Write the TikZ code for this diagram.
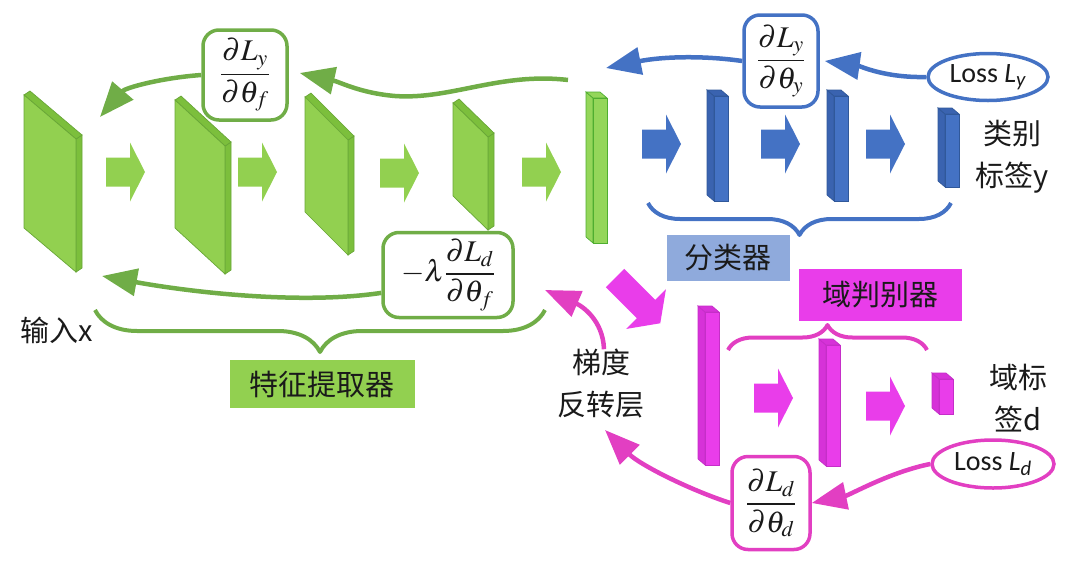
\documentclass[tikz,border=0pt]{standalone}
\usepackage{mathptmx}
\usepackage[no-math]{fontspec}
\newfontfamily\cjk{Noto Sans CJK SC}
\newfontfamily\carl{Carlito}
\usetikzlibrary{arrows.meta,decorations.pathreplacing,shapes.geometric,calc}
\definecolor{gfill}{HTML}{92D050}
\definecolor{gside}{HTML}{7CBF3C}
\definecolor{gedge}{HTML}{68A637}
\definecolor{gline}{HTML}{70AD47}
\definecolor{gbar}{HTML}{94D65A}
\definecolor{gbaredge}{HTML}{4FAE30}
\definecolor{bfill}{HTML}{4472C4}
\definecolor{bside}{HTML}{3A63B0}
\definecolor{bedge}{HTML}{30589A}
\definecolor{bline}{HTML}{4472C4}
\definecolor{mfill}{HTML}{E93DEA}
\definecolor{mside}{HTML}{D632D8}
\definecolor{medge}{HTML}{C52EC8}
\definecolor{mline}{HTML}{E23FC2}
\definecolor{clsfill}{HTML}{8FAADC}
\definecolor{txt}{HTML}{1A1A1A}
\newcommand\mfs{\fontsize{30}{33}\selectfont}
\newcommand\slabG[5]{%
 \filldraw[fill=gside,draw=gedge,line width=0.7pt] ({#2},{#3+#4}) -- ++(6,-4) -- ++(0,#5) -- ++(-6,4) -- cycle;
 \filldraw[fill=gside,draw=gedge,line width=0.7pt] ({#1},{#3}) -- ++(6,-4) -- ({#2+6},{#3+#4-4}) -- ({#2},{#3+#4}) -- cycle;
 \filldraw[fill=gfill,draw=gedge,line width=0.7pt] ({#1},{#3}) -- ({#2},{#3+#4}) -- ++(0,#5) -- ({#1},{#3+#5}) -- cycle;
}
\newcommand\cubar[7]{%
 \filldraw[fill=#2,draw=#3,line width=0.7pt] ({#4},{#6}) -- ++(-7,-6) -- ({#4-7},{#7-6}) -- ({#4},{#7}) -- cycle;
 \filldraw[fill=#2,draw=#3,line width=0.7pt] ({#4},{#6}) -- ++(-7,-6) -- ({#5-7},{#6-6}) -- ({#5},{#6}) -- cycle;
 \filldraw[fill=#1,draw=#3,line width=0.7pt] ({#4},{#6}) rectangle ({#5},{#7});
}
\tikzset{
 blockarrow/.pic={\fill[pic actions] (0,-14.5) -- (24,-14.5) -- (24,-29.5) -- (39,0) -- (24,29.5) -- (24,14.5) -- (0,14.5) -- cycle;},
 longblockarrow/.pic={\fill[pic actions] (0,-13) -- (44,-13) -- (44,-28) -- (64,0) -- (44,28) -- (44,13) -- (0,13) -- cycle;},
 gradbox/.style={draw=#1, line width=3.5pt, rounded corners=16pt, fill=white, inner sep=0pt, text=txt, font=\mfs},
 cjkt/.style={text=txt, font=\cjk\fontsize{29}{42}\selectfont, align=center, inner sep=0pt},
 labbox/.style={fill=#1, text=txt, font=\cjk\fontsize{29}{34}\selectfont, inner sep=0pt},
 lossell/.style={ellipse, draw=#1, line width=3.5pt, fill=white, inner sep=0pt, text=txt, font=\carl\fontsize{28}{32}\selectfont},
 curv/.style={draw=#1, line width=4.5pt, -{Triangle[length=35pt,width=27pt]}},
 bracestyle/.style 2 args={draw=#1, line width=4pt, line join=round, decorate, decoration={brace, amplitude=#2}},
}
\begin{document}
\begin{tikzpicture}[x=1pt,y=-1pt]
\useasboundingbox (0,0) rectangle (1090,560);

% ---------- feature extractor (green) ----------
\slabG{24}{76}{95}{44}{133}
\slabG{175}{225}{100}{46}{128}
\slabG{305}{348}{97}{43}{115}
\slabG{453}{488}{103}{34}{93}
\cubar{gbar}{gbar}{gbaredge}{593}{607}{98}{243}
\pic[fill=gfill] at (106,172) {blockarrow};
\pic[fill=gfill] at (238,172) {blockarrow};
\pic[fill=gfill] at (380,173) {blockarrow};
\pic[fill=gfill] at (522,172) {blockarrow};

% ---------- label classifier (blue) ----------
\cubar{bfill}{bside}{bedge}{714}{728}{96}{201}
\cubar{bfill}{bside}{bedge}{834}{848}{96}{201}
\cubar{bfill}{bside}{bedge}{945}{959}{114}{187}
\pic[fill=bfill] at (642,144) {blockarrow};
\pic[fill=bfill] at (761,144) {blockarrow};
\pic[fill=bfill] at (866,144) {blockarrow};

% ---------- domain classifier (magenta) ----------
\cubar{mfill}{mside}{medge}{705}{719}{312}{465}
\cubar{mfill}{mside}{medge}{826}{840}{345}{466}
\cubar{mfill}{mside}{medge}{939}{953}{379}{414}
\pic[fill=mfill] at (754,398) {blockarrow};
\pic[fill=mfill] at (866,406) {blockarrow};
\pic[fill=mfill, rotate=-45] at (615,278) {longblockarrow};

% ---------- braces ----------
\draw[bracestyle={gline}{42pt}] (545,310) -- (95,310);
\draw[bracestyle={bline}{32pt}] (951,203) -- (648,203);
\draw[bracestyle={mline}{25pt}] (728,350) -- (927,350);

% ---------- labels ----------
\node[labbox=gfill, minimum width=185pt, minimum height=48pt] (fe) at (322,384) {特征提取器};
\node[labbox=clsfill, minimum width=123pt, minimum height=46pt] (cls) at (728,258) {分类器};
\node[labbox=mfill, minimum width=163pt, minimum height=52pt] (dc) at (880,295) {域判别器};
\node[cjkt] (inx) at (57,330) {输入x};
\node[cjkt] (ylab) at (1012,157) {类别\\标签y};
\node[cjkt] (dlab) at (1018,398) {域标\\签d};
\node[cjkt] (grl) at (601,384) {梯度\\反转层};

% ---------- gradient boxes and losses ----------
\node[gradbox=gline, minimum width=84pt, minimum height=90pt] (dfy) at (245,75) {$\displaystyle\frac{\partial L_y}{\partial\theta_f}$};
\node[gradbox=bline, minimum width=74pt, minimum height=92pt] (dyy) at (781,61) {$\displaystyle\frac{\partial L_y}{\partial\theta_y}$};
\node[gradbox=gline, minimum width=130pt, minimum height=85pt] (dlf) at (448,275) {$\displaystyle-\lambda\frac{\partial L_d}{\partial\theta_f}$};
\node[gradbox=mline, minimum width=78pt, minimum height=93pt] (ddd) at (771,503) {$\displaystyle\frac{\partial L_d}{\partial\theta_d}$};
\node[lossell=bline, minimum width=120pt, minimum height=47pt] (lossy) at (988,77) {Loss \textit{L}\textsubscript{\textit{y}}};
\node[lossell=mline, minimum width=122pt, minimum height=48pt] (lossd) at (993,464) {Loss \textit{L}\textsubscript{\textit{d}}};

% ---------- free ends ----------
\coordinate (gtop) at (568,80);
\coordinate (gtip1) at (100,117);
\coordinate (gtip2) at (102,276);
\coordinate (btip) at (606,68);
\coordinate (mtip1) at (545,290);
\coordinate (mtip2) at (605,430);

% ---------- curved gradient arrows ----------
\draw[curv=gline] (gtop) .. controls (500,72) and (450,100) .. (395,96) .. controls (360,93) and (340,82) .. ($(dfy.east)+(11,-2)$);
\draw[curv=gline] (dfy.west) .. controls (160,78) and (125,88) .. (gtip1);
\draw[curv=gline] (dlf.195) .. controls (300,305) and (190,292) .. (gtip2);
\draw[curv=bline] (lossy.west) .. controls (885,78) and (860,66) .. ($(dyy.east)+(5,0)$);
\draw[curv=bline] (dyy.west) .. controls (700,55) and (660,57) .. (btip);
\draw[curv=mline] (lossd.west) .. controls (890,472) and (850,495) .. ($(ddd.east)+(0,0)$);
\draw[curv=mline] (ddd.west) .. controls (690,490) and (640,465) .. (mtip2);
\draw[curv=mline] ($(grl.north)+(3,0)$) .. controls (603,320) and (582,306) .. (mtip1);
\end{tikzpicture}
\end{document}
